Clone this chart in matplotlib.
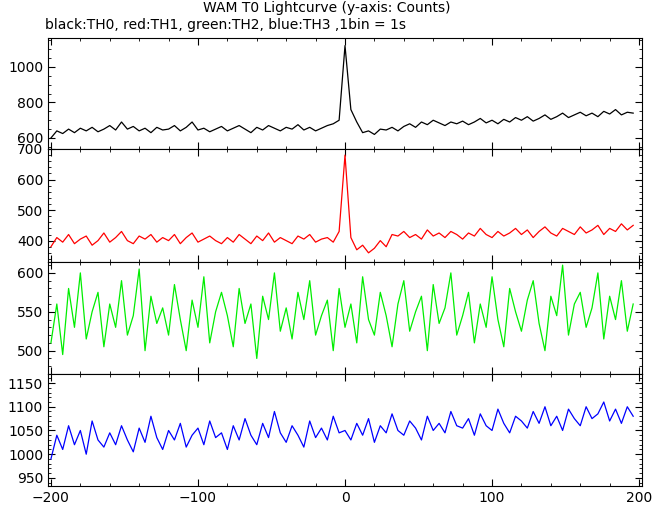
import numpy as np
import matplotlib
matplotlib.use("Agg")
import matplotlib.pyplot as plt
from matplotlib.ticker import MultipleLocator

# 4 s resolution
t = np.arange(-200, 200, 4)

th0 = [600, 640, 625, 650, 630, 655, 640, 660, 635, 650,
       670, 645, 690, 650, 665, 640, 655, 630, 660, 645,
       650, 670, 640, 660, 690, 645, 655, 635, 650, 665,
       640, 655, 670, 650, 630, 660, 645, 670, 655, 640,
       660, 650, 675, 645, 660, 640, 655, 670, 680, 700,
       1120, 760, 690, 630, 640, 620, 650, 645, 660, 640,
       665, 680, 660, 690, 675, 700, 685, 670, 690, 680,
       695, 675, 690, 710, 685, 700, 680, 705, 690, 715,
       700, 720, 695, 710, 730, 705, 720, 740, 715, 730,
       745, 725, 740, 720, 750, 735, 760, 730, 745, 740]

th1 = [380, 410, 395, 420, 390, 405, 415, 385, 400, 425,
       395, 410, 430, 400, 390, 415, 405, 420, 395, 410,
       400, 420, 390, 410, 425, 395, 405, 415, 400, 390,
       410, 395, 420, 405, 390, 415, 400, 425, 395, 410,
       400, 390, 415, 405, 420, 395, 405, 410, 395, 430,
       680, 410, 370, 385, 360, 375, 400, 380, 420, 415,
       430, 410, 420, 405, 435, 415, 425, 410, 430, 420,
       405, 425, 415, 440, 420, 410, 430, 415, 425, 440,
       420, 435, 410, 430, 445, 425, 415, 440, 430, 420,
       445, 425, 435, 450, 420, 440, 430, 455, 435, 450]

th2 = [510, 560, 495, 580, 530, 600, 515, 550, 575, 505,
       560, 530, 590, 520, 545, 605, 500, 570, 535, 555,
       520, 585, 540, 500, 565, 530, 595, 510, 550, 575,
       545, 505, 580, 535, 560, 490, 570, 540, 600, 525,
       555, 515, 575, 540, 590, 520, 545, 565, 500, 580,
       530, 560, 510, 595, 540, 520, 575, 545, 505, 560,
       590, 525, 550, 570, 500, 585, 535, 555, 600, 520,
       545, 575, 510, 560, 530, 595, 540, 505, 580, 550,
       525, 565, 590, 535, 500, 570, 545, 610, 520, 560,
       575, 530, 555, 600, 515, 570, 540, 590, 525, 560]

th3 = [990, 1040, 1010, 1060, 1020, 1050, 1000, 1070, 1030, 1015,
       1045, 1020, 1060, 1030, 1005, 1055, 1025, 1080, 1035, 1010,
       1050, 1030, 1065, 1015, 1040, 1055, 1020, 1070, 1035, 1045,
       1010, 1060, 1030, 1075, 1040, 1020, 1065, 1035, 1090, 1045,
       1025, 1060, 1040, 1015, 1070, 1035, 1055, 1030, 1080, 1045,
       1050, 1030, 1065, 1040, 1075, 1025, 1060, 1045, 1085, 1050,
       1040, 1070, 1055, 1030, 1080, 1050, 1065, 1045, 1090, 1060,
       1055, 1075, 1040, 1085, 1060, 1050, 1095, 1065, 1045, 1080,
       1070, 1055, 1090, 1065, 1100, 1060, 1080, 1050, 1095, 1075,
       1060, 1100, 1075, 1085, 1110, 1070, 1095, 1065, 1100, 1080]

panels = [
    (th0, "black", (538, 1163), 200, 50),
    (th1, "red", (330, 700), 100, 20),
    (th2, "#00ee00", (470, 614), 50, 10),
    (th3, "blue", (933, 1169), 50, 10),
]

fig = plt.figure(figsize=(6.54, 5.05), dpi=100)
W, H = 654, 505
edges = [38, 149, 262, 374, 486]
left, right = 48, 642

for i, (y, col, ylim, major, minor) in enumerate(panels):
    top, bot = edges[i], edges[i + 1]
    ax = fig.add_axes([left / W, 1 - bot / H, (right - left) / W, (bot - top) / H])
    ax.plot(t, y, color=col, linewidth=0.9)
    ax.set_xlim(-202, 202)
    ax.set_ylim(*ylim)
    ax.yaxis.set_major_locator(MultipleLocator(major))
    ax.yaxis.set_minor_locator(MultipleLocator(minor))
    ax.xaxis.set_major_locator(MultipleLocator(100))
    ax.xaxis.set_minor_locator(MultipleLocator(20))
    ax.tick_params(which="both", direction="in", top=True, right=True, labelsize=10)
    ax.tick_params(which="major", length=5)
    ax.tick_params(which="minor", length=2.5)
    if i < 3:
        ax.tick_params(labelbottom=False)

fig.text(0.5, 1 - 8 / H, "WAM T0 Lightcurve (y-axis: Counts)", ha="center", va="center", fontsize=10)
fig.text(left / W - 0.005, 1 - 25 / H, "black:TH0, red:TH1, green:TH2, blue:TH3 ,1bin = 1s",
         ha="left", va="center", fontsize=10)

fig.savefig("out.png", dpi=100)
